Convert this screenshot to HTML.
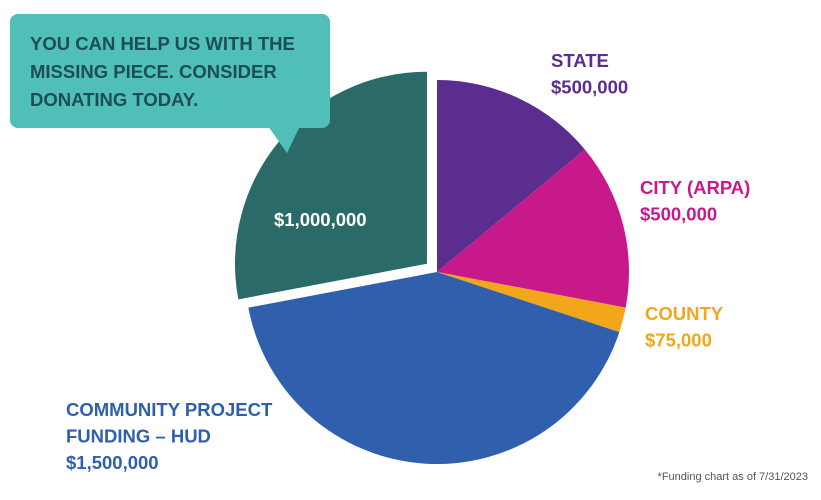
<!DOCTYPE html>
<html><head><meta charset="utf-8">
<style>
html,body{margin:0;padding:0;background:#fff;}
body{width:821px;height:500px;overflow:hidden;position:relative;font-family:"Liberation Sans",sans-serif;}
svg{position:absolute;left:0;top:0;}
</style></head>
<body>
<svg id="chart" width="821" height="500">
  <g id="slices"></g>
  <g>
    <rect x="10" y="14" width="320" height="114" rx="8" fill="#4fbfb8"/>
    <polygon points="268,126 300,126 287,153" fill="#4fbfb8"/>
    <text x="30" y="50" font-size="18.5" font-weight="bold" fill="#1d4d57">YOU CAN HELP US WITH THE</text>
    <text x="30" y="78" font-size="18.5" font-weight="bold" fill="#1d4d57">MISSING PIECE. CONSIDER</text>
    <text x="30" y="106" font-size="18.5" font-weight="bold" fill="#1d4d57">DONATING TODAY.</text>
  </g>
  <g id="labels"></g>
  <text x="808" y="480" text-anchor="end" font-size="11" fill="#555">*Funding chart as of 7/31/2023</text>
</svg>
<script>
const categories = ["State","City (ARPA)","County","Community Project Funding – HUD","Donations"];
const values = [500000,500000,75000,1500000,1000000];
const colors = ["#5b2d8e","#c8198a","#f2a71b","#2f5fad","#2a6b6a"];
const exploded = [false,false,false,false,true];
const cx=437, cy=272, r=192, off=13;
const NS="http://www.w3.org/2000/svg";
const total = values.reduce((a,b)=>a+b,0);
function pt(a,rad,ox,oy){return [ox+rad*Math.sin(a), oy-rad*Math.cos(a)];}
let a0=0;
const g=document.getElementById('slices');
values.forEach((v,i)=>{
  const a1=a0+v/total*2*Math.PI;
  const mid=(a0+a1)/2;
  const ox=cx+(exploded[i]?off*Math.sin(mid):0), oy=cy-(exploded[i]?off*Math.cos(mid):0);
  const p0=pt(a0,r,ox,oy), p1=pt(a1,r,ox,oy);
  const large=(a1-a0)>Math.PI?1:0;
  const p=document.createElementNS(NS,'path');
  p.setAttribute('d',`M${ox},${oy}L${p0[0]},${p0[1]}A${r},${r} 0 ${large} 1 ${p1[0]},${p1[1]}Z`);
  p.setAttribute('fill',colors[i]);
  
  
  g.appendChild(p);
  a0=a1;
});
const labels=[
 {lines:["STATE","$500,000"],x:551,y:67,c:"#5b2d8e"},
 {lines:["CITY (ARPA)","$500,000"],x:640,y:194,c:"#c8198a"},
 {lines:["COUNTY","$75,000"],x:645,y:320,c:"#f2a71b"},
 {lines:["COMMUNITY PROJECT","FUNDING – HUD","$1,500,000"],x:66,y:416,c:"#2f5fad"},
 {lines:["$1,000,000"],x:274,y:226,c:"#ffffff"}
];
const lg=document.getElementById('labels');
labels.forEach((L,i)=>{
  L.lines.forEach((s,j)=>{
    const t=document.createElementNS(NS,'text');
    t.setAttribute('x',L.x);t.setAttribute('y',L.y+j*26.5);
    t.setAttribute('font-size','18.5');t.setAttribute('font-weight','bold');t.setAttribute('fill',L.c);
    t.textContent=s;
    
    
    lg.appendChild(t);
  });
});
</script>
</body></html>
